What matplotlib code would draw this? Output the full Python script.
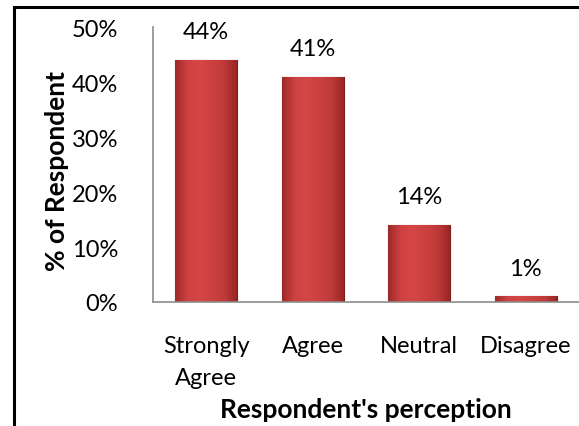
import numpy as np
import matplotlib.pyplot as plt
from matplotlib.colors import LinearSegmentedColormap

categories = ['Strongly\nAgree', 'Agree', 'Neutral', 'Disagree']
share = [44, 41, 14, 1]   # percent of respondents
yticks = [0, 10, 20, 30, 40, 50]

plt.rcParams['font.family'] = ['Lato', 'DejaVu Sans']

fig = plt.figure(figsize=(5.79, 4.27), dpi=100)
ax = fig.add_axes([0.2642, 0.2904, 0.7358, 0.644])

x = np.arange(len(categories))
bars = ax.bar(x, share, width=0.58, color='#c43b3c', edgecolor='#7a1c1c', linewidth=0.8, zorder=2)

# shaded fill across each bar, darker at the sides
shade = LinearSegmentedColormap.from_list('bar_shade', ['#9e2a2a', '#cf4141', '#d64646', '#cc4040', '#c03a3a', '#9a2626'])
grad = np.linspace(0, 1, 64).reshape(1, -1)
for b in bars:
    x0, w, h = b.get_x(), b.get_width(), b.get_height()
    im = ax.imshow(grad, cmap=shade, aspect='auto', extent=(x0, x0 + w, 0, h), zorder=2.5)
    im.set_clip_path(b)
    ax.text(b.get_x() + w / 2, h + 3.2, f'{h:g}%', ha='center', va='bottom', fontsize=17)

ax.set_xlim(-0.5, len(categories) - 0.5)
ax.set_ylim(0, 50)
ax.set_yticks(yticks)
ax.set_yticklabels([f'{t}%' for t in yticks])
ax.set_xticks(x)
ax.set_xticklabels(categories, linespacing=1.6)
ax.tick_params(axis='both', length=0, labelsize=17)
ax.tick_params(axis='y', pad=25)
ax.tick_params(axis='x', pad=24)

for s in ['top', 'right']:
    ax.spines[s].set_visible(False)
for s in ['left', 'bottom']:
    ax.spines[s].set_color('#8c8c8c')
    ax.spines[s].set_linewidth(1.2)

ax.set_ylabel('% of Respondent', fontsize=19, fontweight='bold', va='center')
ax.yaxis.set_label_coords(-0.225, 0.48)
ax.set_xlabel("Respondent's perception", fontsize=19, fontweight='bold', va='center')
ax.xaxis.set_label_coords(0.5, -0.39)

# outer frame lines
fig.add_artist(plt.Line2D([13.5 / 579, 13.5 / 579], [0, 1 - 7.5 / 427], color='black', lw=2.2))
fig.add_artist(plt.Line2D([13.5 / 579, 1], [1 - 7.5 / 427, 1 - 7.5 / 427], color='black', lw=2.2))

fig.savefig('out.png', dpi=100)
